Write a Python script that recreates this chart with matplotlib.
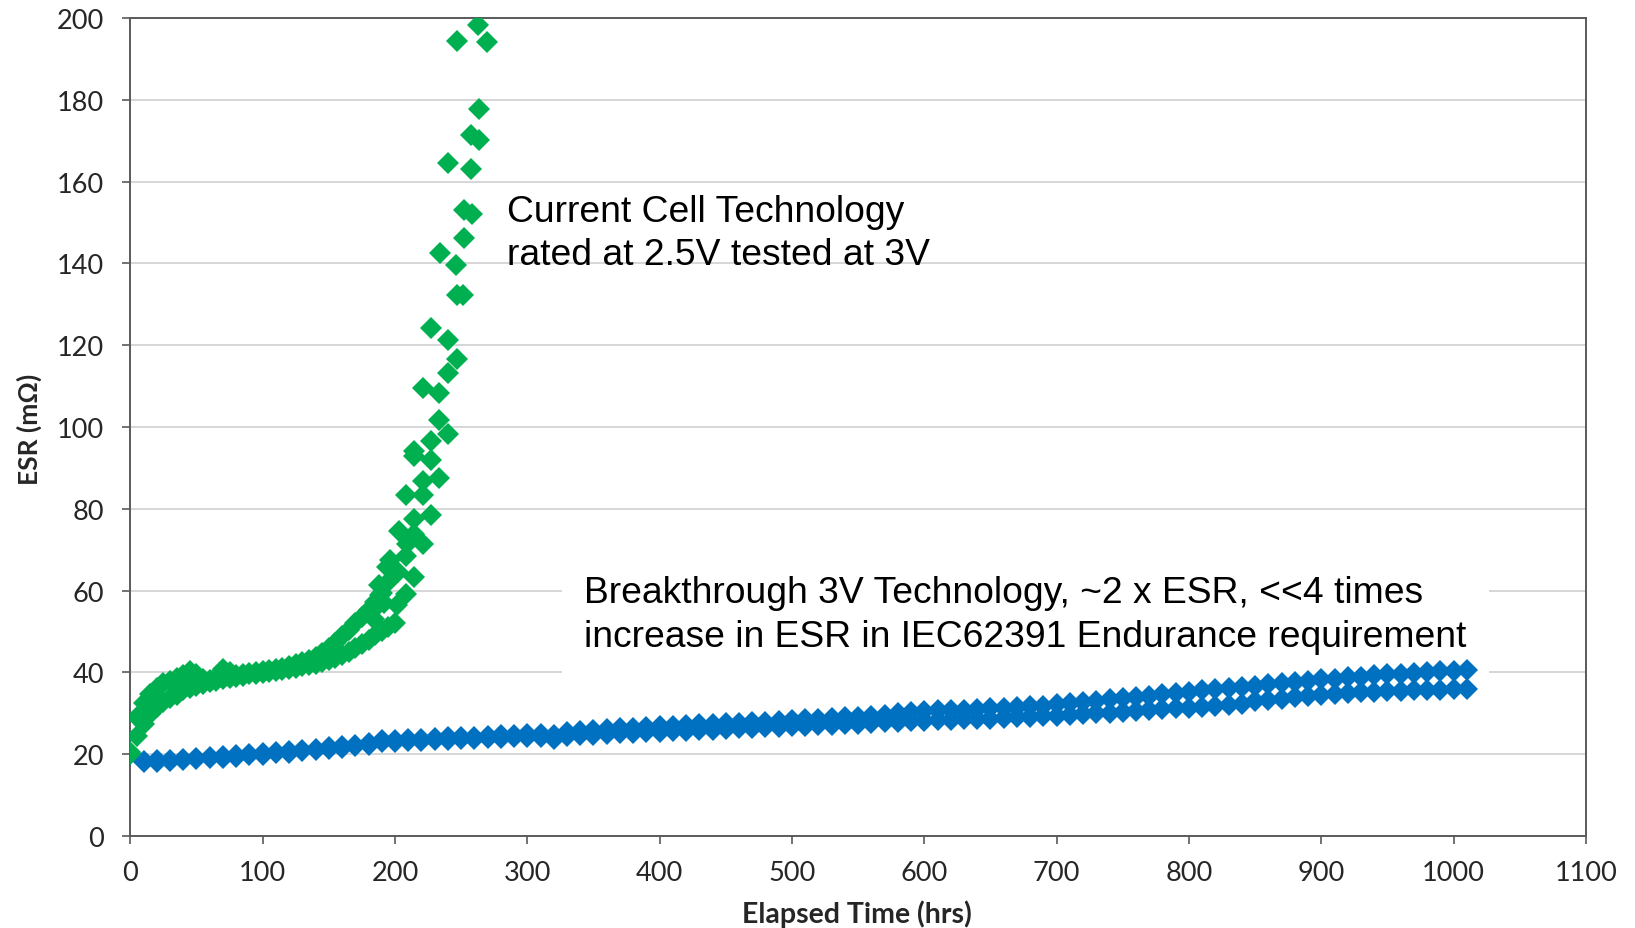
import matplotlib.pyplot as plt

# Current cell technology (2.5V rated, tested at 3V): two cells, every 5 hrs up to 200 hrs
current_hours = [0, 5, 10, 15, 20, 25, 30, 35, 40, 45, 50, 55, 60, 65, 70, 75, 80, 85, 90, 95,
                 100, 105, 110, 115, 120, 125, 130, 135, 140, 145, 150, 155, 160, 165, 170, 175,
                 180, 185, 190, 195, 200]
current_esr_a = [20.5, 29.0, 32.5, 34.8, 36.3, 37.3, 38.0, 38.6, 39.3, 40.3, 39.6, 38.4, 38.2,
                 38.9, 40.8, 40.2, 39.4, 39.5, 39.8, 40.1, 40.3, 40.6, 40.9, 41.2, 41.6, 42.0,
                 42.5, 43.1, 43.8, 44.8, 46.0, 47.3, 48.8, 50.3, 52.0, 53.6, 55.3, 57.2, 59.5,
                 62.0, 64.8]
current_esr_b = [20.0, 24.5, 27.5, 29.8, 31.5, 32.8, 33.8, 34.5, 35.8, 36.3, 36.8, 37.2, 37.6,
                 38.0, 38.4, 38.7, 39.0, 39.2, 39.5, 39.7, 39.9, 40.1, 40.3, 40.6, 40.9, 41.2,
                 41.5, 41.8, 42.1, 42.5, 43.0, 43.6, 44.3, 45.1, 46.0, 47.0, 48.0, 49.1, 50.2,
                 51.2, 52.0]

# late, fast-rising readings of the current cells
late_hours = [184, 186, 189, 192, 188.2, 196.2, 193.7, 202, 201.3, 208.3, 208.3, 214.6, 208.8,
              221.4, 203.3, 214.6, 214.6, 227.2, 208.3, 221, 221.4, 233.5, 227.2, 214.6, 214.6,
              227.2, 239.8, 233.5, 233.5, 221, 239.8, 246.6, 239.8, 227.2, 246.6, 251.6, 246.1,
              234, 252.4, 258, 252.4, 257.4, 239.8, 263.7, 257.4, 263.5, 269.8, 246.6, 263]
late_esr = [53, 56, 59, 57, 61.3, 67.6, 65.8, 64.6, 56.5, 59.2, 68.5, 63.3, 71.3, 71.3, 74.6,
            73.9, 77.6, 78.6, 83.3, 83.3, 86.7, 87.6, 91.9, 93.0, 94.2, 96.5, 98.4, 101.7, 108.2,
            109.6, 113.3, 116.6, 121.2, 124.3, 132.3, 132.3, 139.6, 142.5, 146.3, 152.0, 153.1,
            163.1, 164.5, 170.2, 171.3, 177.7, 194.1, 194.3, 198.4]

# Breakthrough 3V technology: two cells, every 10 hrs
breakthrough_hours = list(range(0, 1011, 10))
breakthrough_esr_a = [
    20.3, 18.3, 18.5, 18.7, 18.9, 19.1, 19.3, 19.5, 19.8, 20.0,
    20.3, 20.5, 20.8, 21.1, 21.4, 21.7, 22.0, 22.3, 22.7, 23.4,
    23.6, 23.7, 23.8, 23.9, 24.1, 24.2, 24.3, 24.4, 24.6, 24.8,
    24.9, 25.0, 24.6, 25.4, 25.7, 26.0, 26.2, 26.3, 26.5, 26.6,
    26.8, 26.9, 27.1, 27.3, 27.4, 27.6, 27.7, 27.9, 28.0, 28.2,
    28.4, 28.5, 28.7, 28.9, 29.0, 29.2, 29.4, 29.7, 30.0, 30.3,
    30.6, 30.7, 30.8, 30.9, 31.0, 31.2, 31.3, 31.5, 31.7, 31.9,
    32.2, 32.5, 32.8, 33.1, 33.4, 33.7, 34.0, 34.3, 34.7, 35.0,
    35.3, 35.6, 35.9, 36.2, 36.5, 36.8, 37.1, 37.4, 37.7, 38.0,
    38.3, 38.5, 38.8, 39.0, 39.3, 39.5, 39.7, 39.9, 40.1, 40.3,
    40.4, 40.6]
breakthrough_esr_b = [
    20.0, 18.0, 18.2, 18.4, 18.6, 18.8, 19.0, 19.2, 19.4, 19.7,
    19.9, 20.2, 20.4, 20.7, 21.0, 21.3, 21.6, 21.9, 22.3, 22.9,
    23.1, 23.2, 23.3, 23.4, 23.5, 23.7, 23.8, 23.9, 24.0, 24.1,
    24.2, 24.3, 23.8, 24.4, 24.6, 24.8, 24.9, 25.1, 25.2, 25.4,
    25.5, 25.6, 25.8, 25.9, 26.0, 26.2, 26.3, 26.4, 26.6, 26.7,
    26.8, 27.0, 27.1, 27.2, 27.3, 27.5, 27.6, 27.8, 27.9, 28.1,
    28.2, 28.3, 28.4, 28.5, 28.6, 28.7, 28.8, 29.0, 29.1, 29.3,
    29.4, 29.6, 29.8, 30.0, 30.2, 30.4, 30.6, 30.8, 31.0, 31.2,
    31.4, 31.6, 31.8, 32.0, 32.4, 33.0, 33.3, 33.6, 33.9, 34.2,
    34.5, 34.7, 34.9, 35.1, 35.3, 35.4, 35.5, 35.6, 35.7, 35.8,
    35.9, 36.0]

x_ticks = list(range(0, 1101, 100))
y_ticks = list(range(0, 201, 20))

GREEN = "#00B050"
BLUE = "#0070C0"
tick_font = "Lato"
note_font = "Liberation Sans"

fig = plt.figure(figsize=(16.35, 9.29), dpi=100)
ax = fig.add_axes([0.0797, 0.099, 0.8903, 0.8805])

marker_style = dict(marker="D", linestyle="none", markersize=11.5, markeredgewidth=0, zorder=3)
for esr in (breakthrough_esr_b, breakthrough_esr_a):
    ax.plot(breakthrough_hours, esr, color=BLUE, **marker_style)
for esr in (current_esr_b, current_esr_a):
    ax.plot(current_hours, esr, color=GREEN, **marker_style)
ax.plot(late_hours, late_esr, color=GREEN, **marker_style)

ax.set_xlim(0, 1100)
ax.set_ylim(0, 200)
ax.set_xticks(x_ticks)
ax.set_yticks(y_ticks)
ax.grid(axis="y", color="#d0d0d0", linewidth=1.2)
ax.set_axisbelow(True)
for spine in ax.spines.values():
    spine.set_color("#5a5a5a")
    spine.set_linewidth(1.4)
ax.tick_params(direction="out", length=6, width=1.2, color="#5a5a5a")
ax.tick_params(axis="y", pad=13)
ax.tick_params(axis="x", pad=11)
for label in ax.get_xticklabels() + ax.get_yticklabels():
    label.set_fontfamily(tick_font)
    label.set_fontsize(19.5)
    label.set_color("#262626")

ax.set_xlabel("Elapsed Time (hrs)", fontfamily=tick_font, fontweight="bold", fontsize=20.5,
              color="#262626")
ax.set_ylabel("ESR (mΩ)", fontfamily=[tick_font, "DejaVu Sans"], fontweight="bold",
              fontsize=19, color="#262626")
ax.xaxis.set_label_coords(0.499, -0.0947)
ax.xaxis.label.set_va("center")
ax.yaxis.set_label_coords(-0.0696, 0.498)
ax.yaxis.label.set_va("center")

# notes sit above the gridlines but below the markers
ax.text(0.31, 0.7485, "Current Cell Technology\nrated at 2.5V tested at 3V",
        transform=fig.transFigure, fontfamily=note_font, fontsize=26.8, ha="left",
        va="center", linespacing=1.3, zorder=4)
ax.text(0.3572, 0.3375,
        "Breakthrough 3V Technology, ~2 x ESR, <<4 times\n"
        "increase in ESR in IEC62391 Endurance requirement",
        transform=fig.transFigure, fontfamily=note_font, fontsize=26.8, ha="left",
        va="center", linespacing=1.3, zorder=2,
        bbox=dict(boxstyle="square,pad=0.6", facecolor="white", edgecolor="none"))

fig.savefig("out.png", dpi=100)
